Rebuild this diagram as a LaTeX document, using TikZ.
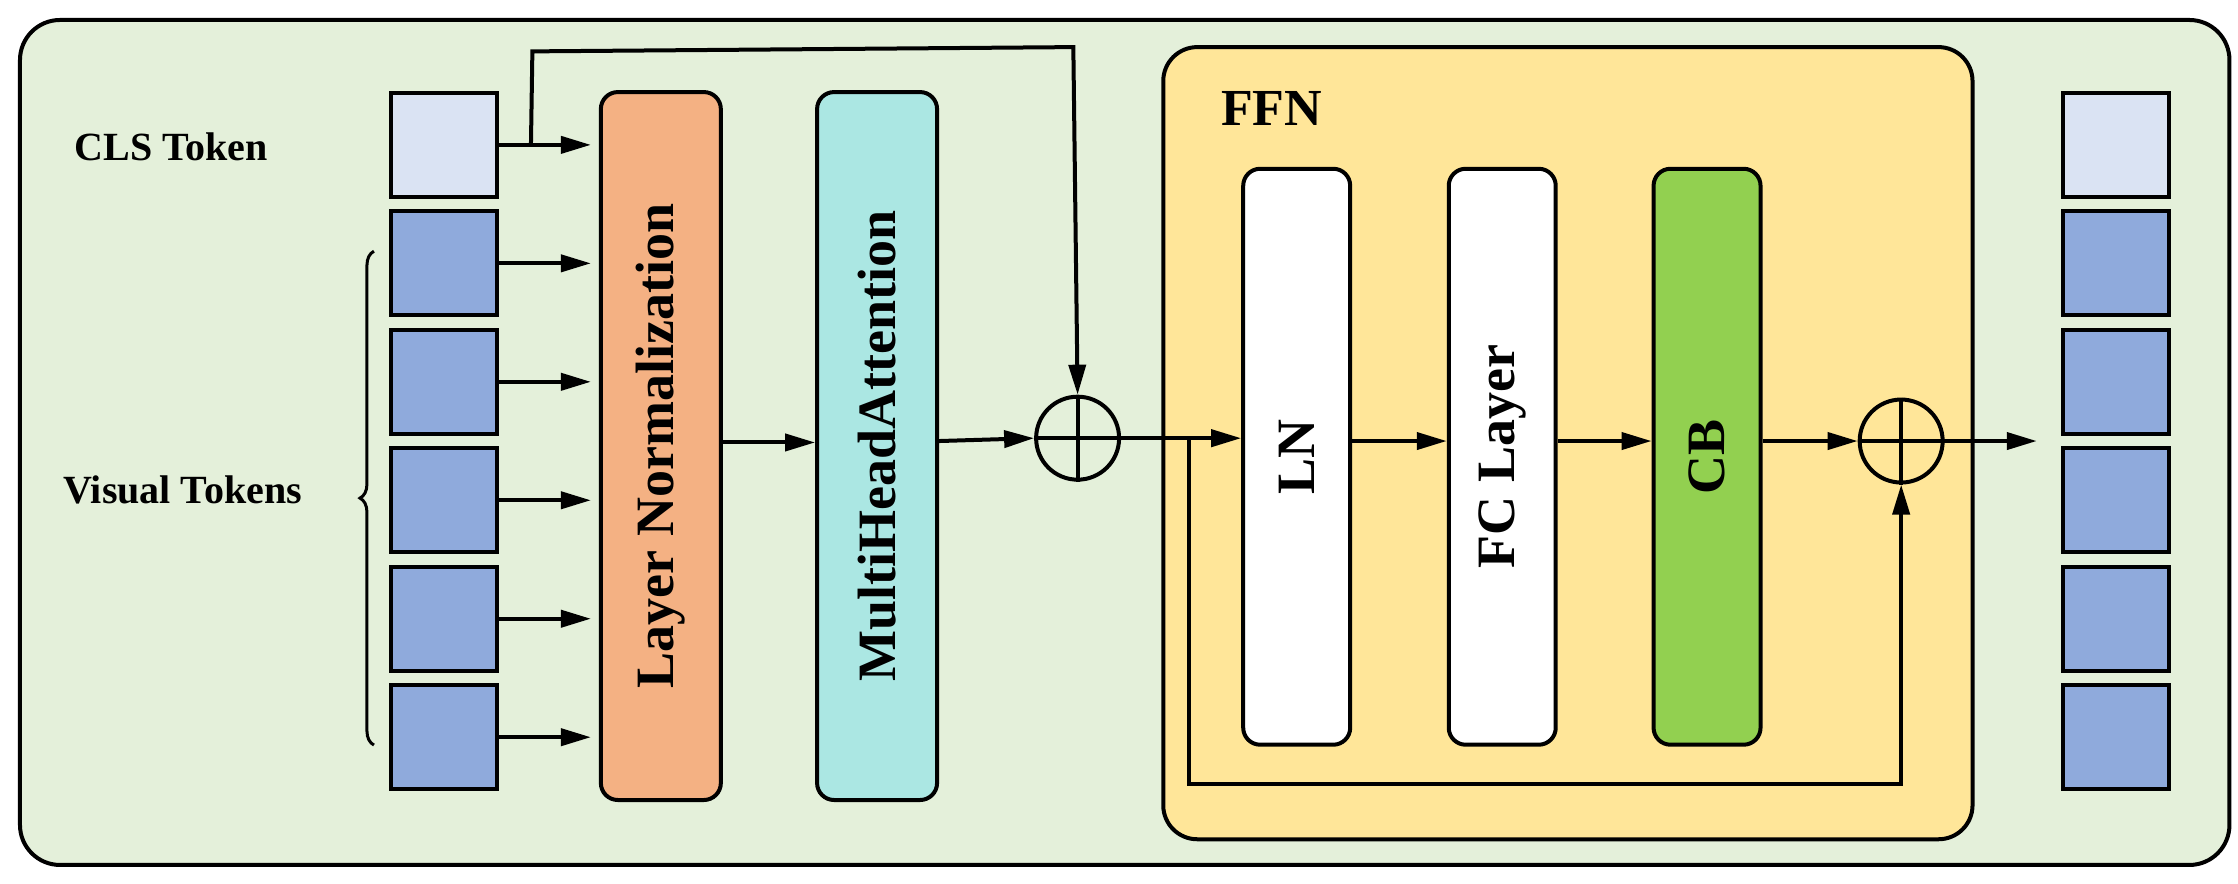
\documentclass[tikz,border=0pt]{standalone}
\usepackage{fontspec}
\setmainfont{Liberation Serif}
\usetikzlibrary{arrows.meta,decorations.pathreplacing}
\definecolor{bgg}{HTML}{E4F0DA}
\definecolor{tokl}{HTML}{DAE3F3}
\definecolor{tokb}{HTML}{8FAADC}
\definecolor{lnc}{HTML}{F4B183}
\definecolor{mhc}{HTML}{ABE7E3}
\definecolor{ffc}{HTML}{FFE699}
\definecolor{cbc}{HTML}{92D050}
\begin{document}
\begin{tikzpicture}[x=1.4274pt,y=-1.4274pt,line width=4pt,
  arr/.style={-{Triangle[length=30pt,width=17pt]}},
  tok/.style={draw,minimum width=106pt,minimum height=104pt,inner sep=0},
  blk/.style={draw,rounded corners=17pt,minimum width=120pt,minimum height=708pt,inner sep=0},
  sblk/.style={draw,rounded corners=17pt,minimum width=107pt,minimum height=576pt,inner sep=0,fill=white},
  lbl/.style={font=\fontsize{40}{44}\selectfont\bfseries},
  btxt/.style={rotate=90,font=\fontsize{54}{60}\selectfont\bfseries},
  op/.style={draw,circle,minimum size=83pt,inner sep=0}]
\useasboundingbox (0,0) rectangle (1568,619);
\draw[fill=bgg,rounded corners=40pt] (14,14) rectangle (1562,606);
\draw[fill=ffc,rounded corners=34pt] (815,33) rectangle (1382,588);
\node[lbl,font=\fontsize{52}{56}\selectfont\bfseries] (ffn) at (891,76) {FFN};
% tokens
\foreach \n/\y/\c in {0/101.5/tokl,1/184.5/tokb,2/267.5/tokb,3/350.5/tokb,4/433.5/tokb,5/516.5/tokb}{
  \node[tok,fill=\c] (t\n) at (311,\y) {};
  \node[tok,fill=\c] (r\n) at (1482.5,\y) {};
  \coordinate (a\n) at (414,\y);
}
\foreach \n in {0,...,5}{\draw[arr] (t\n.east) -- (a\n);}
\node[lbl] (cls) at (120,103) {CLS Token};
\node[lbl] (vis) at (128,343) {Visual Tokens};
\draw[line width=3pt,decorate,decoration={brace,amplitude=14pt}] (262,522) -- (262,176);
\node[blk,fill=lnc] (ln) at (463,312.5) {};
\node[btxt] at (ln) {Layer Normalization};
\node[blk,fill=mhc] (mh) at (614.5,312.5) {};
\node[btxt] at (mh) {MultiHeadAttention};
\node[op] (o1) at (755,307) {};
\draw (o1.north)--(o1.south) (o1.west)--(o1.east);
\node[sblk] (l2) at (908.5,320) {};
\node[btxt] at (l2) {LN};
\node[sblk] (fc) at (1052.5,320) {};
\node[btxt] at (fc) {FC Layer};
\node[sblk,fill=cbc] (cb) at (1196,320) {};
\node[btxt] at (cb) {CB};
\node[op] (o2) at (1332,309) {};
\draw (o2.north)--(o2.south) (o2.west)--(o2.east);
\draw[arr] (ln.east|-0,310) -- (mh.west|-0,310);
\draw[arr] (mh.east|-0,309) -- (o1.west);
\coordinate (s1) at (372,101);
\draw[arr] (s1) -- (373,36) -- (752,33) -- (o1.north);
\draw[arr] (o1.east) -- (l2.west|-o1.east);
\coordinate (br) at (833,308);
\draw[arr] (br) -- (833,549) -- (1332,549) -- (o2.south);
\draw[arr] (l2.east|-0,309) -- (fc.west|-0,309);
\draw[arr] (fc.east|-0,309) -- (cb.west|-0,309);
\draw[arr] (cb.east|-0,309) -- (o2.west);
\coordinate (oe) at (1427,309);
\draw[arr] (o2.east) -- (oe);
\end{tikzpicture}
\end{document}
